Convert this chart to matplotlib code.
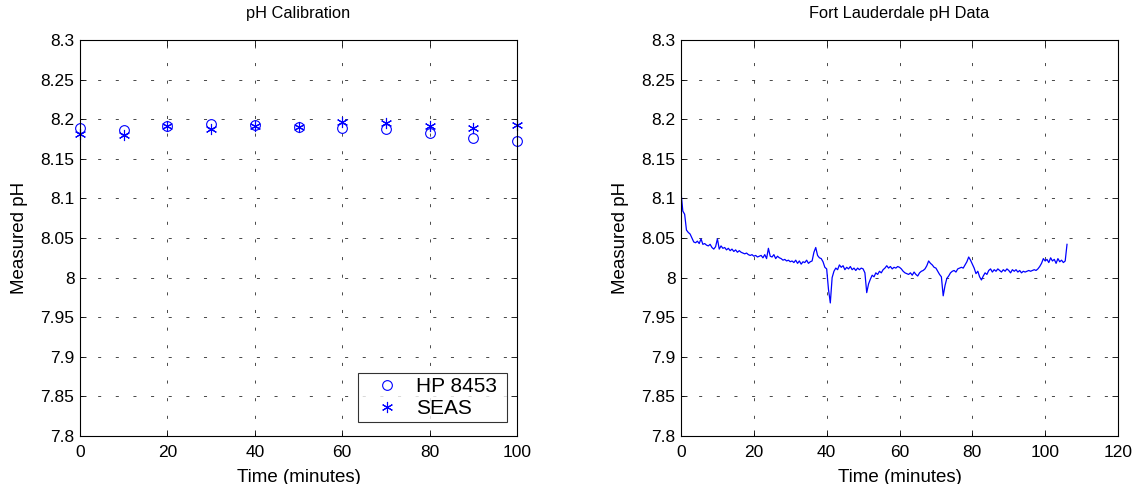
import numpy as np
import matplotlib
matplotlib.use("Agg")
import matplotlib.pyplot as plt
from matplotlib.ticker import FuncFormatter

plt.rcParams['font.family'] = ['Liberation Sans', 'DejaVu Sans']
plt.rcParams['font.size'] = 12
plt.rcParams['lines.scale_dashes'] = False

# ---- Data: pH calibration ----
cal_time = [0, 10, 20, 30, 40, 50, 60, 70, 80, 90, 100]
hp8453 = [8.189, 8.186, 8.191, 8.194, 8.193, 8.190, 8.189, 8.187, 8.183, 8.1765, 8.173]
seas = [8.181, 8.180, 8.191, 8.188, 8.191, 8.190, 8.1967, 8.195, 8.191, 8.189, 8.193]
series_labels = ['HP 8453', 'SEAS']

# ---- Data: Fort Lauderdale pH (sampled every 0.5 min) ----
fl_step_min = 0.5
fl_ph = [
    8.108, 8.084, 8.080, 8.060, 8.057, 8.055, 8.050, 8.045, 8.044, 8.046,
    8.043, 8.049, 8.042, 8.043, 8.041, 8.040, 8.042, 8.038, 8.036, 8.039,
    8.049, 8.036, 8.040, 8.037, 8.038, 8.035, 8.037, 8.034, 8.036, 8.033,
    8.035, 8.032, 8.034, 8.032, 8.031, 8.030, 8.031, 8.029, 8.028, 8.029,
    8.027, 8.028, 8.026, 8.027, 8.028, 8.025, 8.029, 8.024, 8.037, 8.027,
    8.026, 8.029, 8.024, 8.027, 8.025, 8.024, 8.022, 8.023, 8.021, 8.022,
    8.020, 8.021, 8.019, 8.022, 8.018, 8.021, 8.017, 8.020, 8.019, 8.022,
    8.018, 8.020, 8.021, 8.032, 8.038, 8.028, 8.025, 8.024, 8.020, 8.013,
    8.011, 7.985, 7.968, 8.000, 8.008, 8.012, 8.010, 8.016, 8.013, 8.015,
    8.010, 8.013, 8.011, 8.014, 8.010, 8.012, 8.009, 8.012, 8.010, 8.012,
    8.011, 8.006, 7.981, 7.992, 7.998, 8.003, 8.001, 8.006, 8.004, 8.008,
    8.006, 8.010, 8.012, 8.015, 8.012, 8.014, 8.011, 8.013, 8.012, 8.014,
    8.013, 8.011, 8.008, 8.006, 8.005, 8.004, 8.006, 8.003, 8.007, 8.004,
    8.002, 8.006, 8.008, 8.009, 8.011, 8.015, 8.021, 8.018, 8.016, 8.013,
    8.012, 8.008, 8.004, 8.001, 7.977, 7.990, 7.999, 8.002, 8.006, 8.008,
    8.009, 8.007, 8.011, 8.012, 8.013, 8.012, 8.016, 8.020, 8.026, 8.022,
    8.017, 8.012, 8.005, 8.008, 8.001, 7.997, 8.002, 8.006, 8.004, 8.009,
    8.011, 8.007, 8.010, 8.008, 8.011, 8.009, 8.007, 8.010, 8.008, 8.011,
    8.009, 8.006, 8.010, 8.008, 8.010, 8.007, 8.009, 8.006, 8.008, 8.007,
    8.008, 8.009, 8.008, 8.009, 8.010, 8.009, 8.011, 8.014, 8.018, 8.024,
    8.021, 8.023, 8.019, 8.025, 8.021, 8.023, 8.018, 8.024, 8.020, 8.022,
    8.019, 8.021, 8.042,
]
fl_time = np.arange(len(fl_ph)) * fl_step_min

y_ticks = [7.8, 7.85, 7.9, 7.95, 8.0, 8.05, 8.1, 8.15, 8.2, 8.25, 8.3]
left_xticks = [0, 20, 40, 60, 80, 100]
right_xticks = [0, 20, 40, 60, 80, 100, 120]

BLUE = (0, 0, 1)
W, H = 1138, 484
fig = plt.figure(figsize=(W / 100, H / 100), dpi=100)

def px_axes(x0, y0, x1, y1):
    return fig.add_axes([x0 / W, 1 - y1 / H, (x1 - x0) / W, (y1 - y0) / H])

ax1 = px_axes(80, 40, 517, 436)
ax2 = px_axes(681, 40, 1118, 436)

fmt = FuncFormatter(lambda v, p: ('%g' % round(v, 4)))

def style(ax, xt, xlim, title):
    ax.set_xlim(*xlim)
    ax.set_ylim(7.8, 8.3)
    ax.set_xticks(xt)
    ax.set_yticks(y_ticks)
    ax.yaxis.set_major_formatter(fmt)
    ax.xaxis.set_major_formatter(fmt)
    ax.tick_params(direction='in', top=True, right=True, length=4, width=0.6,
                   labelsize=12.5, colors='black', pad=4)
    ax.tick_params(axis='x', pad=6.5)
    for s in ax.spines.values():
        s.set_linewidth(0.8)
        s.set_color('black')
    ax.grid(True, color='black', linewidth=0.5, linestyle=(0, (2.2, 10.5)))
    ax.set_axisbelow(True)
    ax.set_title(title, fontsize=11.8, pad=15.5)
    ax.set_xlabel('Time (minutes)', fontsize=13.5, labelpad=6.5)
    ax.set_ylabel('Measured pH', fontsize=13.5, labelpad=9)

style(ax1, left_xticks, (0, 100), 'pH Calibration')
style(ax2, right_xticks, (0, 120), 'Fort Lauderdale pH Data')

ax1.plot(cal_time, hp8453, linestyle='none', marker='o', markersize=7,
         markerfacecolor='none', markeredgecolor=BLUE, markeredgewidth=0.8,
         label=series_labels[0] + ' ', clip_on=False)
ax1.plot(cal_time, seas, linestyle='none', marker=(6, 2, 0), markersize=8,
         markeredgecolor=BLUE, markeredgewidth=0.8, color=BLUE,
         label=series_labels[1], clip_on=False)
leg = ax1.legend(loc='lower right', bbox_to_anchor=(0.977, 0.035), frameon=True,
                 fancybox=False, edgecolor='black', fontsize=15,
                 handlelength=2.4, borderpad=0.2, labelspacing=0.12,
                 handletextpad=0.17, borderaxespad=0)
leg.get_frame().set_linewidth(0.8)

ax2.plot(fl_time, fl_ph, color=BLUE, linewidth=0.9)

fig.savefig('out.png', dpi=100)
